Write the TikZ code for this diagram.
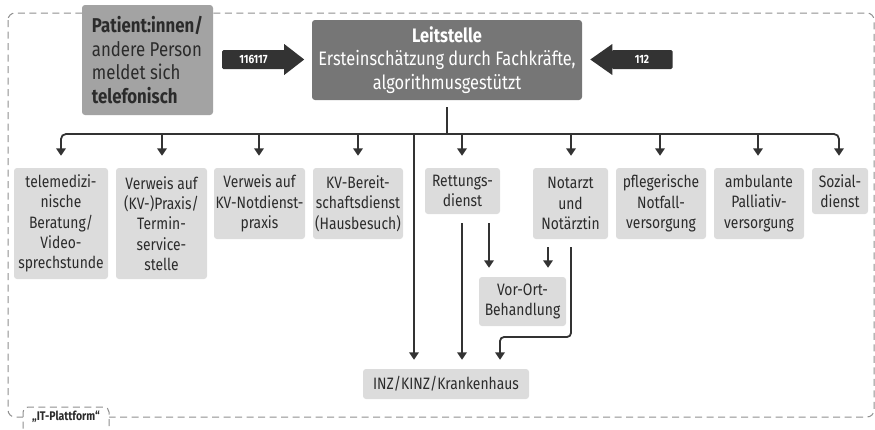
\documentclass[tikz,border=0pt]{standalone}
\usepackage{fontspec}
\setmainfont{Fira Sans}[FakeStretch=0.84]
\usetikzlibrary{arrows.meta,calc}
\definecolor{ink}{HTML}{333333}
\definecolor{txt}{HTML}{2B2B2B}
\definecolor{lightbox}{HTML}{DCDCDC}
\definecolor{midbox}{HTML}{A3A3A3}
\definecolor{darkbox}{HTML}{767676}
\definecolor{frame}{HTML}{8F8F8F}
\begin{document}
\begin{tikzpicture}[x=1pt,y=-1pt,
  box/.style={fill=lightbox,rounded corners=3pt,text=txt,align=center,font=\fontsize{16.5}{20.3}\selectfont,inner sep=0pt},
  line/.style={draw=ink,line width=1.8pt},
  arr/.style={line,-{Triangle[width=9.5pt,length=7.5pt]},shorten >=12pt},
  arrs/.style={line,-{Triangle[width=9.5pt,length=7.5pt]},shorten >=9pt},
  body/.style={fill=ink,text=white,rounded corners=1.5pt,inner sep=0pt,minimum height=19pt,font=\fontsize{12}{14}\selectfont\bfseries},
  dashframe/.style={draw=frame,line width=1pt,dash pattern=on 7pt off 4.5pt}
]
\useasboundingbox (0,0) rectangle (875,429);
% dashed frame
\draw[dashframe,rounded corners=7pt] (8,13) rectangle (874,417);
\draw[dashframe,fill=white,rounded corners=5pt] (23,440) -- (23,407) -- (109,407) -- (109,440);
\node[text=txt,font=\fontsize{12.5}{14}\selectfont\bfseries] (itpl) at (66,417) {„IT-Plattform“};

% top nodes
\node[fill=midbox,rounded corners=3pt,text=txt,align=left,font=\fontsize{20}{23.5}\selectfont,minimum width=131pt,minimum height=110pt,inner sep=0pt] (pat) at (147.5,60) {{\bfseries Patient:innen/}\\andere Person\\meldet sich\\{\bfseries telefonisch}};
\node[fill=darkbox,rounded corners=3pt,text=white,align=center,font=\fontsize{19.5}{23.5}\selectfont,minimum width=270pt,minimum height=80pt,inner sep=0pt] (L) at (447,60) {{\bfseries Leitstelle}\\Ersteinschätzung durch Fachkräfte,\\algorithmusgestützt};
% block arrows
\node[body,minimum width=63pt] (a1) at (253.5,59.5) {116117};
\fill[ink] ($(a1.east)+(-1,-15.5)$) -- ($(a1.east)+(19,0)$) -- ($(a1.east)+(-1,15.5)$) -- cycle;
\node[body,minimum width=61pt] (a2) at (642,59.5) {112};
\fill[ink] ($(a2.west)+(1,-15.5)$) -- ($(a2.west)+(-21,0)$) -- ($(a2.west)+(1,15.5)$) -- cycle;

% second row
\node[box,minimum width=94pt,minimum height=111pt] (t1) at (61,223.5) {telemedizi-\\nische\\Beratung/\\Video-\\sprechstunde};
\node[box,minimum width=91pt,minimum height=111pt] (t2) at (161.5,223.5) {Verweis auf\\(KV-)Praxis/\\Termin-\\service-\\stelle};
\node[box,minimum width=91pt,minimum height=71pt] (t3) at (259.5,203.5) {Verweis auf\\KV-Notdienst-\\praxis};
\node[box,minimum width=90pt,minimum height=71pt] (t4) at (358,203.5) {KV-Bereit-\\schaftsdienst\\(Hausbesuch)};
\node[box,minimum width=75pt,minimum height=46pt] (rd) at (462.5,191) {Rettungs-\\dienst};
\node[box,minimum width=75pt,minimum height=71pt] (na) at (570.5,203.5) {Notarzt\\und\\Notärztin};
\node[box,minimum width=90pt,minimum height=71pt] (pf) at (661,203.5) {pflegerische\\Notfall-\\versorgung};
\node[box,minimum width=90pt,minimum height=71pt] (ap) at (759,203.5) {ambulante\\Palliativ-\\versorgung};
\node[box,minimum width=56pt,minimum height=46pt] (sd) at (840,191) {Sozial-\\dienst};
\node[box,minimum width=87pt,minimum height=49pt] (vo) at (522.5,301.5) {Vor-Ort-\\Behandlung};
\node[box,minimum width=166pt,minimum height=30pt] (inz) at (446,384) {INZ/KINZ/Krankenhaus};

% bus
\coordinate (bus) at (447,134);
\coordinate (k1) at (414,134);
\coordinate (bend) at (571,337);
\draw[line,shorten <=7pt] (L.south) -- (bus);
\draw[arr,rounded corners=5pt] (bus) -| (t1.north);
\draw[arr,rounded corners=5pt] (bus) -| ([xshift=-1pt]sd.north);
\foreach \n/\x in {t2/162,t3/259,t4/358,rd/462,na/571,pf/660,ap/758}
  \draw[arr] (bus -| \x,0) -- (\n.north -| \x,0);
\draw[arrs] (k1) -- (k1 |- inz.north);
% Rettungsdienst
\draw[arrs,shorten <=9pt] (rd.south -| 462,0) -- (inz.north -| 462,0);
\draw[arrs,shorten <=9pt] (rd.south -| 489,0) -- (vo.north -| 489,0);
% Notarzt
\draw[arrs,shorten <=8pt] (na.south -| 548,0) -- (vo.north -| 548,0);
\draw[arrs,shorten <=8pt,rounded corners=4pt] (na.south -| 571,0) -- (bend) -| (inz.north -| 500,0);
\end{tikzpicture}
\end{document}
